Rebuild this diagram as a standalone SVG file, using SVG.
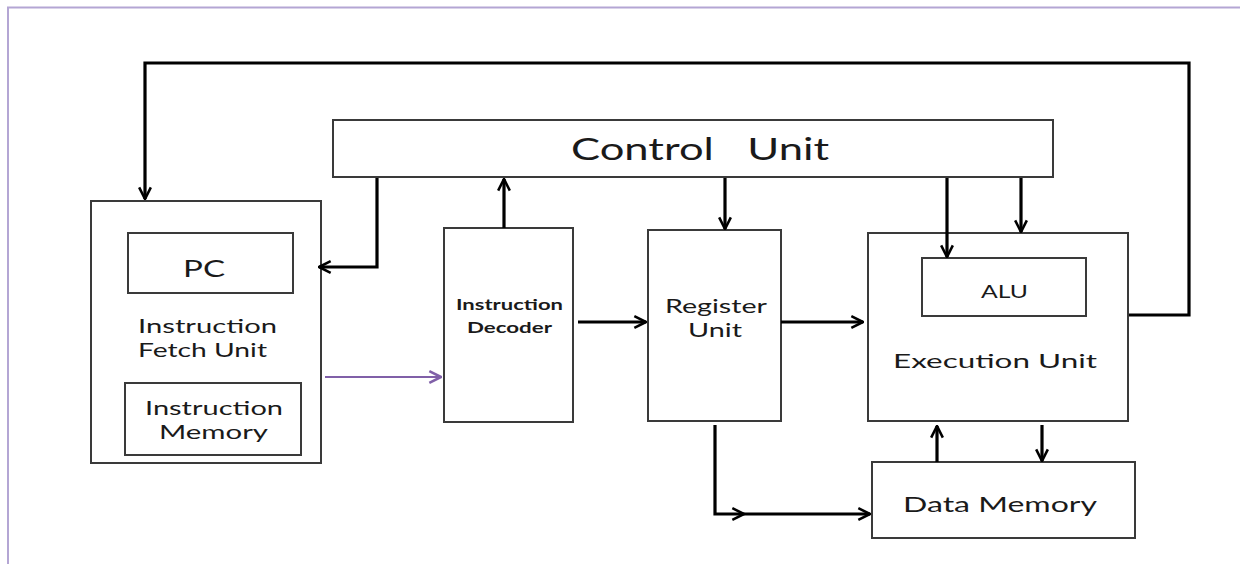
<svg xmlns="http://www.w3.org/2000/svg" width="1240" height="564" viewBox="0 0 1240 564">
<style>
.box{fill:#fff;stroke:#3a3a3a;stroke-width:2}
.wire{fill:none;stroke:#000;stroke-width:3.2;stroke-linejoin:miter}
.t{font-family:Lato,"Open Sans","DejaVu Sans",sans-serif;fill:#1a1a1a;text-anchor:middle}
</style>
<defs>
<marker id="ah" viewBox="0 0 12 12" refX="11" refY="6" markerWidth="14" markerHeight="14" markerUnits="userSpaceOnUse" orient="auto">
<path d="M1,1 L11,6 L1,11" fill="none" stroke="#000" stroke-width="2.2"/>
</marker>
<marker id="ahp" viewBox="0 0 12 12" refX="11" refY="6" markerWidth="14" markerHeight="14" markerUnits="userSpaceOnUse" orient="auto">
<path d="M1,1 L11,6 L1,11" fill="none" stroke="#8060a8" stroke-width="2.2"/>
</marker>
</defs>
<rect width="1240" height="564" fill="#fff"/>
<path d="M8,564 V7.5 H1240" fill="none" stroke="#b4a6d4" stroke-width="2"/>

<g id="control-unit">
<rect class="box" x="333" y="120" width="720" height="57"/>
<text class="t" x="700" y="160" font-size="30" textLength="258" lengthAdjust="spacingAndGlyphs" xml:space="preserve">Control   Unit</text>
</g>
<g id="instruction-fetch-unit">
<rect class="box" x="91" y="201" width="230" height="262"/>
<text class="t" x="207.5" y="333" font-size="20" textLength="139" lengthAdjust="spacingAndGlyphs">Instruction</text>
<text class="t" x="202.5" y="357" font-size="20" textLength="129" lengthAdjust="spacingAndGlyphs">Fetch Unit</text>
</g>
<g id="pc">
<rect class="box" x="128" y="233" width="165" height="60"/>
<text class="t" x="204" y="277" font-size="24" textLength="42" lengthAdjust="spacingAndGlyphs">PC</text>
</g>
<g id="instruction-memory">
<rect class="box" x="125" y="383" width="176" height="72"/>
<text class="t" x="214" y="415" font-size="20" textLength="138" lengthAdjust="spacingAndGlyphs">Instruction</text>
<text class="t" x="213.5" y="439" font-size="20" textLength="109" lengthAdjust="spacingAndGlyphs">Memory</text>
</g>
<g id="instruction-decoder">
<rect class="box" x="444" y="228" width="129" height="194"/>
<text class="t" x="509.5" y="310" font-size="16" font-weight="bold" textLength="107" lengthAdjust="spacingAndGlyphs">Instruction</text>
<text class="t" x="509.5" y="333" font-size="16" font-weight="bold" textLength="85" lengthAdjust="spacingAndGlyphs">Decoder</text>
</g>
<g id="register-unit">
<rect class="box" x="648" y="230" width="133" height="191"/>
<text class="t" x="716" y="313" font-size="20" textLength="102" lengthAdjust="spacingAndGlyphs">Register</text>
<text class="t" x="715" y="337" font-size="20" textLength="54" lengthAdjust="spacingAndGlyphs">Unit</text>
</g>
<g id="execution-unit">
<rect class="box" x="868" y="233" width="260" height="188"/>
<text class="t" x="995" y="368" font-size="20" textLength="204" lengthAdjust="spacingAndGlyphs">Execution Unit</text>
</g>
<g id="alu">
<rect class="box" x="922" y="258" width="164" height="58"/>
<text class="t" x="1004.5" y="298" font-size="18" textLength="47" lengthAdjust="spacingAndGlyphs">ALU</text>
</g>
<g id="data-memory">
<rect class="box" x="872" y="462" width="263" height="76"/>
<text class="t" x="1000" y="512" font-size="21" textLength="194" lengthAdjust="spacingAndGlyphs">Data Memory</text>
</g>

<g id="connectors">
<path class="wire" d="M1129,315 H1189 V63 H145 V199" marker-end="url(#ah)"/>
<path class="wire" d="M377,178 V267 H319" marker-end="url(#ah)"/>
<path d="M325,377 H441" fill="none" stroke="#8060a8" stroke-width="2.2" marker-end="url(#ahp)"/>
<path class="wire" d="M504,228 V179" marker-end="url(#ah)"/>
<path class="wire" d="M578,322 H646" marker-end="url(#ah)"/>
<path class="wire" d="M725,178 V229" marker-end="url(#ah)"/>
<path class="wire" d="M781,322 H863" marker-end="url(#ah)"/>
<path class="wire" d="M947,178 V257" marker-end="url(#ah)"/>
<path class="wire" d="M1021,178 V232" marker-end="url(#ah)"/>
<path class="wire" d="M937,462 V426" marker-end="url(#ah)"/>
<path class="wire" d="M1042,425 V461" marker-end="url(#ah)"/>
<path class="wire" d="M715,425 V514 H744" marker-end="url(#ah)"/>
<path class="wire" d="M744,514 H870" marker-end="url(#ah)"/>
</g>
</svg>
